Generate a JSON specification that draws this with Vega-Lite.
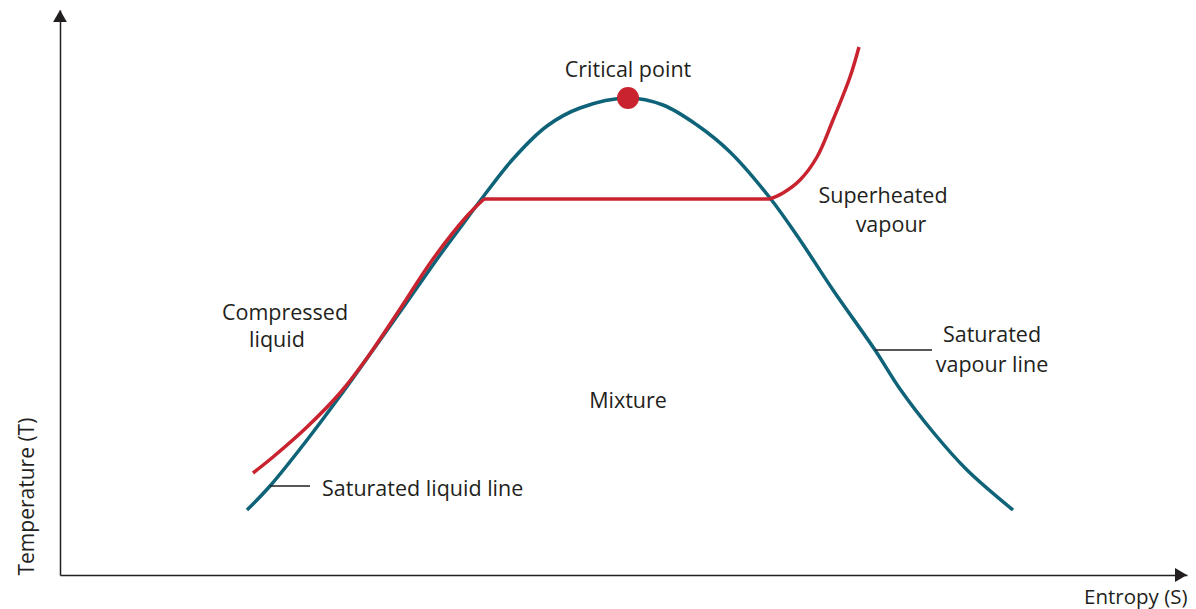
{
  "$schema": "https://vega.github.io/schema/vega-lite/v6.json",
  "autosize": "none",
  "width": 1127,
  "height": 565,
  "padding": {"left": 60, "top": 10, "right": 9, "bottom": 34},
  "background": "white",
  "config": {"view": {"stroke": null}},
  "datasets": {
    "dome": [
      {"s": 187, "t": 65}, {"s": 210, "t": 89}, {"s": 247, "t": 135}, {"s": 280, "t": 179},
      {"s": 313, "t": 225}, {"s": 347, "t": 273}, {"s": 380, "t": 320}, {"s": 400, "t": 347},
      {"s": 420, "t": 374}, {"s": 453, "t": 416}, {"s": 487, "t": 449}, {"s": 520, "t": 467},
      {"s": 568, "t": 477}, {"s": 603, "t": 470}, {"s": 637, "t": 450}, {"s": 670, "t": 423},
      {"s": 710, "t": 377}, {"s": 740, "t": 335}, {"s": 773, "t": 285}, {"s": 815, "t": 225},
      {"s": 840, "t": 186}, {"s": 873, "t": 143}, {"s": 907, "t": 105}, {"s": 953, "t": 65}
    ],
    "process": [
      {"seg": "compressed", "s": 193, "t": 102}, {"seg": "compressed", "s": 213, "t": 118},
      {"seg": "compressed", "s": 247, "t": 148}, {"seg": "compressed", "s": 280, "t": 182},
      {"seg": "compressed", "s": 307, "t": 217}, {"seg": "compressed", "s": 340, "t": 266},
      {"seg": "compressed", "s": 373, "t": 316}, {"seg": "compressed", "s": 407, "t": 359},
      {"seg": "compressed", "s": 424, "t": 376},
      {"seg": "mixture", "s": 424, "t": 376}, {"seg": "mixture", "s": 710, "t": 376},
      {"seg": "superheated", "s": 710, "t": 376}, {"seg": "superheated", "s": 723, "t": 382},
      {"seg": "superheated", "s": 740, "t": 395}, {"seg": "superheated", "s": 757, "t": 418},
      {"seg": "superheated", "s": 773, "t": 455}, {"seg": "superheated", "s": 790, "t": 498},
      {"seg": "superheated", "s": 799, "t": 528}
    ],
    "critical": [{"s": 568, "t": 477}],
    "leaders": [
      {"s": 210, "s2": 250, "t": 89, "t2": 89},
      {"s": 815, "s2": 872, "t": 225, "t2": 225}
    ],
    "labels": [
      {"kind": "center", "s": 568, "t": 498, "label": "Critical point"},
      {"kind": "center", "s": 823, "t": 372, "label": "Superheated"},
      {"kind": "center", "s": 831, "t": 343, "label": "vapour"},
      {"kind": "center", "s": 225, "t": 255, "label": "Compressed"},
      {"kind": "center", "s": 217, "t": 228, "label": "liquid"},
      {"kind": "center", "s": 568, "t": 167, "label": "Mixture"},
      {"kind": "center", "s": 932, "t": 233, "label": "Saturated"},
      {"kind": "center", "s": 932, "t": 203, "label": "vapour line"},
      {"kind": "left", "s": 262, "t": 79, "label": "Saturated liquid line"}
    ],
    "arrows": [
      {"axis": "T", "s": 0, "t": 559},
      {"axis": "S", "s": 1121, "t": 0}
    ]
  },
  "layer": [
    {
      "data": {"name": "dome"},
      "mark": {"type": "line", "color": "#0f6378", "strokeWidth": 3.5, "interpolate": "catmull-rom"},
      "encoding": {
        "x": {"field": "s", "type": "quantitative", "scale": {"domain": [0, 1127], "nice": false, "zero": false},
          "axis": {"title": "Entropy (S)", "ticks": false, "labels": false, "grid": false, "domainColor": "#231f20", "domainWidth": 1.5,
            "titleFont": "Open Sans", "titleFontSize": 20.5, "titleFontWeight": "normal", "titleColor": "#231f20",
            "titleAnchor": "end", "titleAlign": "right", "titleBaseline": "alphabetic", "titleX": 1127, "titleY": 28}},
        "y": {"field": "t", "type": "quantitative", "scale": {"domain": [0, 565], "nice": false, "zero": false},
          "axis": {"title": "Temperature (T)", "ticks": false, "labels": false, "grid": false, "domainColor": "#231f20", "domainWidth": 1.5,
            "titleFont": "Open Sans", "titleFontSize": 21, "titleFontWeight": "normal", "titleColor": "#231f20",
            "titleAngle": 270, "titleAlign": "left", "titleBaseline": "alphabetic", "titleX": -27, "titleY": 565}}
      }
    },
    {
      "data": {"name": "process"},
      "mark": {"type": "line", "color": "#c8232f", "strokeWidth": 3.5, "interpolate": "catmull-rom"},
      "encoding": {
        "x": {"field": "s", "type": "quantitative"},
        "y": {"field": "t", "type": "quantitative"},
        "detail": {"field": "seg", "type": "nominal"}
      }
    },
    {
      "data": {"name": "critical"},
      "mark": {"type": "point", "shape": "circle", "filled": true, "color": "#c8232f", "opacity": 1, "size": 484},
      "encoding": {
        "x": {"field": "s", "type": "quantitative"},
        "y": {"field": "t", "type": "quantitative"}
      }
    },
    {
      "data": {"name": "leaders"},
      "mark": {"type": "rule", "color": "#231f20", "strokeWidth": 1.3},
      "encoding": {
        "x": {"field": "s", "type": "quantitative"},
        "x2": {"field": "s2"},
        "y": {"field": "t", "type": "quantitative"},
        "y2": {"field": "t2"}
      }
    },
    {
      "data": {"name": "labels"},
      "transform": [{"filter": "datum.kind === 'center'"}],
      "mark": {"type": "text", "font": "Open Sans", "fontSize": 21.5, "color": "#231f20", "align": "center", "baseline": "alphabetic"},
      "encoding": {
        "x": {"field": "s", "type": "quantitative"},
        "y": {"field": "t", "type": "quantitative"},
        "text": {"field": "label", "type": "nominal"}
      }
    },
    {
      "data": {"name": "labels"},
      "transform": [{"filter": "datum.kind === 'left'"}],
      "mark": {"type": "text", "font": "Open Sans", "fontSize": 21.5, "color": "#231f20", "align": "left", "baseline": "alphabetic"},
      "encoding": {
        "x": {"field": "s", "type": "quantitative"},
        "y": {"field": "t", "type": "quantitative"},
        "text": {"field": "label", "type": "nominal"}
      }
    },
    {
      "data": {"name": "arrows"},
      "mark": {"type": "point", "filled": true, "color": "#231f20", "opacity": 1, "size": 190},
      "encoding": {
        "x": {"field": "s", "type": "quantitative"},
        "y": {"field": "t", "type": "quantitative"},
        "shape": {"field": "axis", "type": "nominal", "scale": {"domain": ["T", "S"], "range": ["triangle-up", "triangle-right"]}, "legend": null}
      }
    }
  ]
}
